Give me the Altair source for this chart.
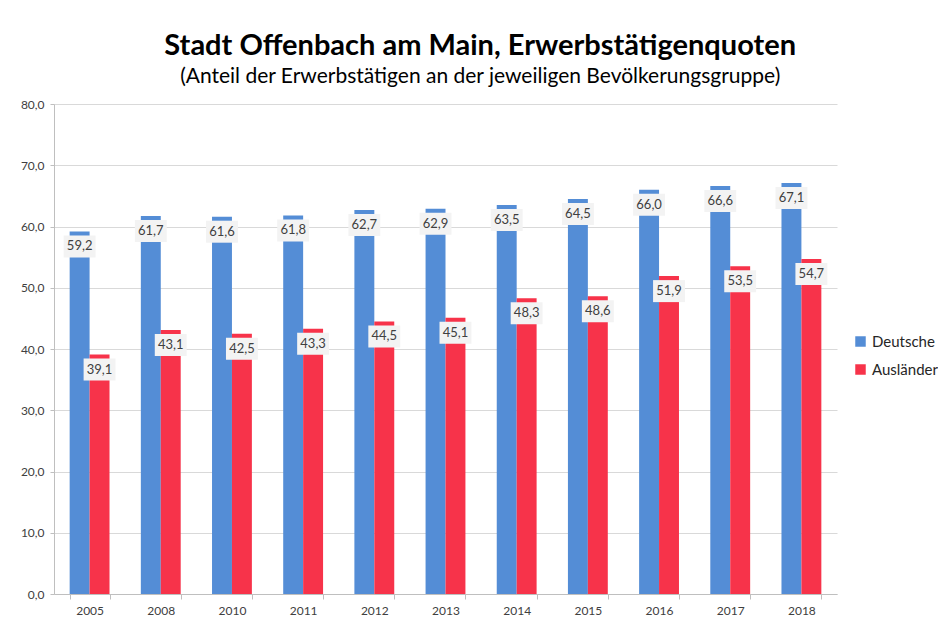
import altair as alt
import pandas as pd

years = ["2005", "2008", "2010", "2011", "2012", "2013", "2014", "2015", "2016", "2017", "2018"]
deutsche = [59.2, 61.7, 61.6, 61.8, 62.7, 62.9, 63.5, 64.5, 66.0, 66.6, 67.1]
auslaender = [39.1, 43.1, 42.5, 43.3, 44.5, 45.1, 48.3, 48.6, 51.9, 53.5, 54.7]
series = ["Deutsche", "Ausländer"]
colors = ["#548dd6", "#f7334a"]

rows = []
for y, d, a in zip(years, deutsche, auslaender):
    rows.append({"Jahr": y, "Gruppe": series[0], "Wert": d})
    rows.append({"Jahr": y, "Gruppe": series[1], "Wert": a})
df = pd.DataFrame(rows)
df["Label"] = df["Wert"].map(lambda v: f"{v:.1f}".replace(".", ","))

FONT = "Lato"

x = alt.X("Jahr:N", title=None, sort=years,
          scale=alt.Scale(paddingInner=0.44, paddingOuter=0.22),
          axis=alt.Axis(labelAngle=0, tickBand="extent", labelFontSize=12, labelColor="#404040",
                        domainColor="#bfbfbf", tickColor="#bfbfbf", tickSize=5, labelPadding=6,
                        labelFont=FONT))
xo = alt.XOffset("Gruppe:N", sort=series)
ysc = alt.Scale(domain=[0, 80])

bars = alt.Chart(df).mark_bar().encode(
    x=x, xOffset=xo,
    y=alt.Y("Wert:Q", title=None, scale=ysc,
            axis=alt.Axis(values=list(range(0, 81, 10)), labelExpr="replace(format(datum.value, '.1f'), '.', ',')",
                          gridColor="#d9d9d9", domainColor="#bfbfbf", tickColor="#bfbfbf", tickSize=4,
                          labelFontSize=12, labelColor="#404040", labelPadding=6, labelFont=FONT)),
    color=alt.Color("Gruppe:N", sort=series, scale=alt.Scale(domain=series, range=colors),
                    legend=alt.Legend(title=None, symbolType="square", symbolSize=110, labelFontSize=15,
                                      labelColor="#262626", labelFont=FONT, rowPadding=12,
                                      orient="none", legendX=799, legendY=230,
                                      symbolStrokeWidth=0)),
)

boxes = alt.Chart(df).mark_point(
    shape="M-1.45,-1L1.45,-1L1.45,1L-1.45,1Z", filled=True, fill="#f3f3f3", opacity=1,
    size=484, yOffset=15, strokeWidth=0,
).encode(x=x, xOffset=xo, y=alt.Y("Wert:Q", scale=ysc))

labels = alt.Chart(df).mark_text(
    yOffset=15, baseline="middle", fontSize=13, color="#404040", font=FONT,
).encode(x=x, xOffset=xo, y=alt.Y("Wert:Q", scale=ysc), text="Label:N")

chart = alt.layer(bars, boxes, labels).properties(
    width=783, height=490,
    padding={"top": 24, "left": 12, "right": 0, "bottom": 2},
    title=alt.TitleParams(
        text="Stadt Offenbach am Main, Erwerbstätigenquoten",
        subtitle="(Anteil der Erwerbstätigen an der jeweiligen Bevölkerungsgruppe)",
        anchor="middle", frame="bounds", fontSize=29, fontWeight="bold", font=FONT,
        color="#000000", subtitleFont=FONT, subtitleFontSize=21, subtitleColor="#000000",
        subtitlePadding=5, offset=11, dx=1,
    ),
).configure_view(stroke=None)

chart.save("out.html", embed_options={"renderer": "svg", "actions": False})
